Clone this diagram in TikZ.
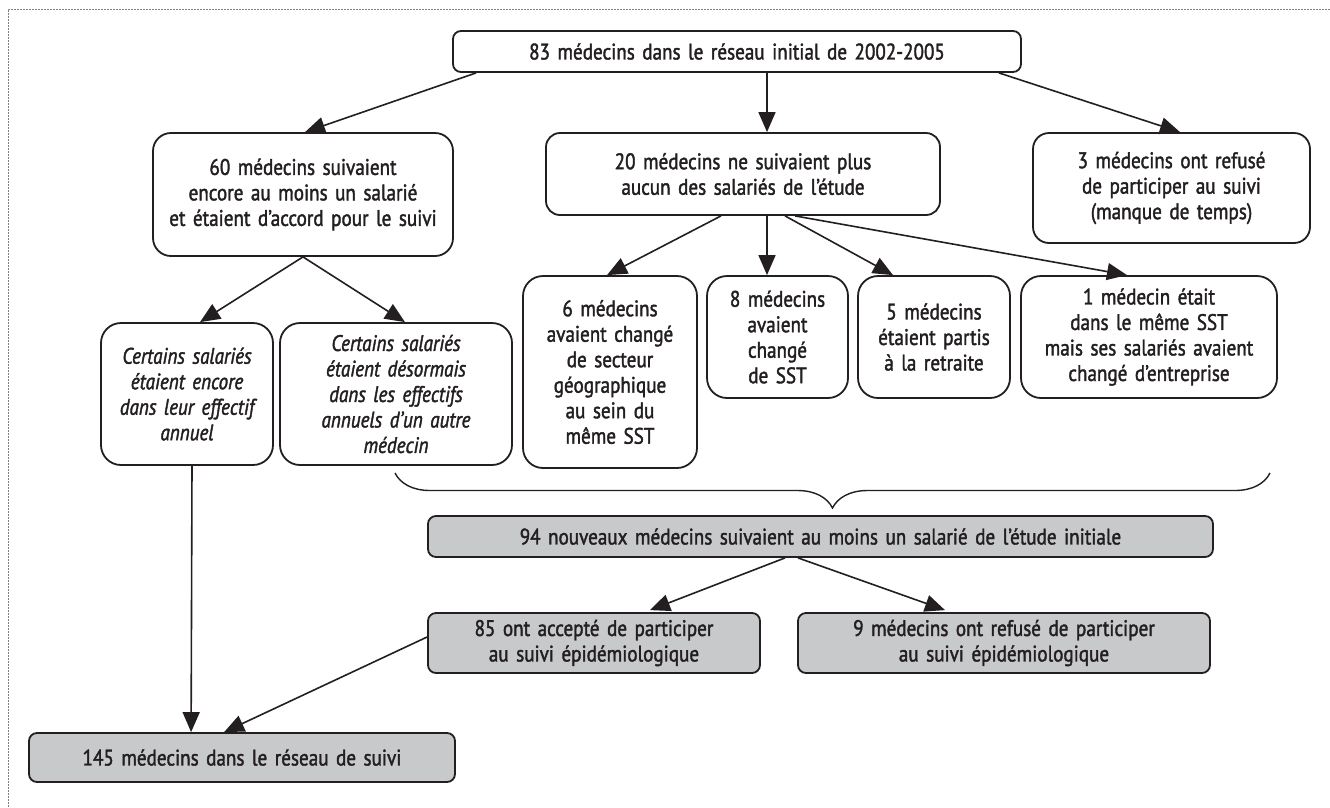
\documentclass[tikz,border=0pt]{standalone}
\usepackage{fontspec}
\setmainfont{PT Sans}[FakeStretch=0.85, FakeBold=1.7]
\usetikzlibrary{arrows.meta,calc,decorations.pathreplacing}
\definecolor{ink}{HTML}{231F20}
\definecolor{boxgrey}{HTML}{C8C9CB}
\begin{document}
\begin{tikzpicture}[x=1pt,y=-1pt,
  every node/.style={text=ink, font=\fontsize{22.5}{25.5}\selectfont},
  wbox/.style={draw=ink, line width=1.8pt, rounded corners=18pt, align=center, inner sep=3pt, fill=white},
  sbox/.style={draw=ink, line width=1.8pt, rounded corners=8pt, align=center, inner sep=3pt},
  gbox/.style={sbox, fill=boxgrey},
  itx/.style={font=\fontsize{22.5}{25.5}\selectfont\itshape},
  arr/.style={draw=ink, line width=1.6pt, -{Triangle[length=20pt,width=17pt]}},
  brc/.style={draw=ink, line width=1.4pt, decorate, decoration={brace, amplitude=35pt, mirror}}
]
\useasboundingbox (0,0) rectangle (1330,807);
\draw[gray, line width=0.7pt, dash pattern=on 2pt off 1pt] (8,807) -- (8,9) -- (1330,9);

\node[sbox, minimum width=568, minimum height=41, text width=562] (top) at (737,51.5) {83 médecins dans le réseau initial de 2002-2005};
\node[wbox, minimum width=300, minimum height=123, text width=294] (n60) at (303,194.5) {60 médecins suivaient\\encore au moins un salarié\\et étaient d’accord pour le suivi};
\node[wbox, rounded corners=14pt, minimum width=394, minimum height=82, text width=388] (n20) at (743,174) {20 médecins ne suivaient plus\\aucun des salariés de l’étude};
\node[wbox, rounded corners=16pt, minimum width=277, minimum height=110, text width=271] (n3) at (1171.5,188) {3 médecins ont refusé\\de participer au suivi\\(manque de temps)};

\node[wbox, itx, rounded corners=20pt, minimum width=172, minimum height=142, text width=166] (nA) at (187,394) {Certains salariés\\étaient encore\\dans leur effectif\\annuel};
\node[wbox, itx, rounded corners=20pt, minimum width=232, minimum height=142, text width=226] (nB) at (396,394) {Certains salariés\\étaient désormais\\dans les effectifs\\annuels d’un autre\\médecin};
\node[wbox, rounded corners=20pt, minimum width=174, minimum height=192, text width=168] (n6) at (610,372) {6 médecins\\avaient changé\\de secteur\\géographique\\au sein du\\même SST};
\node[wbox, rounded corners=20pt, minimum width=141, minimum height=122, text width=135] (n8) at (777.5,337) {8 médecins\\avaient\\changé\\de SST};
\node[wbox, rounded corners=20pt, minimum width=152, minimum height=122, text width=146] (n5) at (934,337) {5 médecins\\étaient partis\\à la retraite};
\node[wbox, rounded corners=20pt, minimum width=256, minimum height=122, text width=250] (n1) at (1149,337) {1 médecin était\\dans le même SST\\mais ses salariés avaient\\changé d’entreprise};

\node[gbox, minimum width=785, minimum height=41, text width=779] (n94) at (820.5,536.5) {94 nouveaux médecins suivaient au moins un salarié de l’étude initiale};
\node[gbox, minimum width=332, minimum height=60, text width=326] (n85) at (594,643) {85 ont accepté de participer\\au suivi épidémiologique};
\node[gbox, minimum width=412, minimum height=60, text width=406] (n9) at (1004,643) {9 médecins ont refusé de participer\\au suivi épidémiologique};
\node[gbox, minimum width=426, minimum height=49, text width=420] (n145) at (242,757.5) {145 médecins dans le réseau de suivi};

\coordinate (bl) at (395,473);
\coordinate (br) at (1270,473);
\draw[brc] (bl) -- (br);

\draw[arr] ($(top.south west)+(24,0)$) -- ($(n60.north)+(2,0)$);
\draw[arr] ($(top.south)+(30,0)$) -- ($(n20.north)+(24,0)$);
\draw[arr] ($(top.south east)+(-23,0)$) -- ($(n3.north)+(8.5,0)$);

\draw[arr] (n60.south) -- ($(nA.north)+(13,0)$);
\draw[arr] (n60.south) -- ($(nB.north)+(9,0)$);

\draw[arr] ($(n20.south)+(-22,0)$) -- ($(n6.north)+(-3,0)$);
\draw[arr] ($(n20.south)+(24,0)$) -- ($(n8.north)+(-10.5,0)$);
\draw[arr] ($(n20.south)+(42,0)$) -- ($(n5.north)+(-41,0)$);
\draw[arr] ($(n20.south)+(52,0)$) -- ($(n1.north)+(-22,0)$);

\draw[arr] ($(nA.south)+(5,0)$) -- ($(n145.north west)+(163,0)$);
\draw[arr] ($(n85.west)+(0,-6)$) -- ($(n145.north west)+(196,0)$);

\draw[arr] ($(n94.south)+(-35.5,0)$) -- ($(n85.north)+(56,-2)$);
\draw[arr] ($(n94.south)+(-22.5,0)$) -- ($(n9.north)+(-59,-2)$);
\end{tikzpicture}
\end{document}
